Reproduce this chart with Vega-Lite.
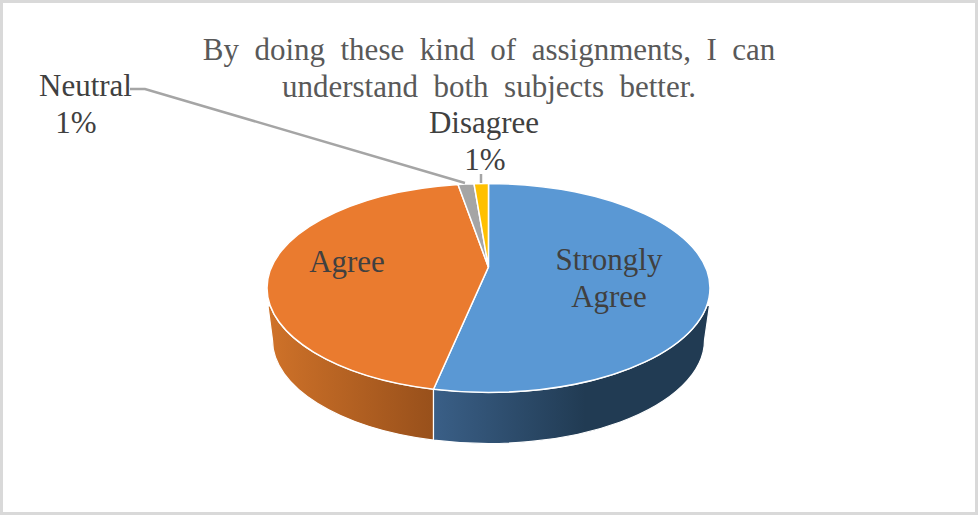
{
  "$schema": "https://vega.github.io/schema/vega-lite/v6.json",
  "width": 978,
  "height": 515,
  "padding": 0,
  "autosize": "none",
  "background": "white",
  "view": {"stroke": "#d9d9d9", "strokeWidth": 6, "fill": "white"},
  "title": {
    "text": ["By\u2002doing\u2002these\u2002kind\u2002of\u2002assignments,\u2002I\u2002can", "understand\u2002both\u2002subjects\u2002better."],
    "font": "Liberation Serif",
    "fontSize": 31,
    "fontWeight": "normal",
    "color": "#595959",
    "lineHeight": 37,
    "anchor": "middle",
    "frame": "group",
    "baseline": "top",
    "dy": 108
  },
  "data": {
    "values": [
      {"answer": "Strongly Agree", "percent": "54%"},
      {"answer": "Agree", "percent": "44%"},
      {"answer": "Neutral", "percent": "1%"},
      {"answer": "Disagree", "percent": "1%"}
    ]
  },
  "layer": [
    {
      "transform": [{"filter": {"field": "answer", "equal": "Agree"}}],
      "mark": {
        "type": "point", "size": 4, "filled": true, "opacity": 1, "stroke": "white", "strokeWidth": 1.2,
        "shape": "M -221 48.5 L -216.5 82.5 A 216 103.5 0 0 0 -55.5 182.6 L -55.5 131.7 A 221.5 104.5 0 0 1 -218.7 48.5 Z",
        "fill": {"gradient": "linear", "x1": 0, "y1": 0, "x2": 1, "y2": 0, "stops": [
          {"offset": 0, "color": "#cf7229"},
          {"offset": 1, "color": "#98501b"}
        ]}
      }
    },
    {
      "transform": [{"filter": {"field": "answer", "equal": "Strongly Agree"}}],
      "mark": {
        "type": "point", "size": 4, "filled": true, "opacity": 1, "stroke": "white", "strokeWidth": 1.2,
        "shape": "M 220.5 48 L 215.5 82.5 A 216 103.5 0 0 1 -55.5 182.6 L -55.5 131.7 A 221.5 104.5 0 0 0 -0.5 135 A 221.5 104.5 0 0 0 218 48 Z",
        "fill": {"gradient": "linear", "x1": 0, "y1": 0, "x2": 1, "y2": 0, "stops": [
          {"offset": 0, "color": "#3a5f87"},
          {"offset": 0.55, "color": "#213b53"},
          {"offset": 1, "color": "#213b53"}
        ]}
      }
    },
    {
      "mark": {"type": "point", "size": 4, "filled": true, "opacity": 1, "stroke": "white", "strokeWidth": 1.5},
      "encoding": {
        "shape": {
          "field": "answer", "type": "nominal", "legend": null,
          "scale": {
            "domain": ["Strongly Agree", "Agree", "Neutral", "Disagree"],
            "range": [
              "M -0.6 9.5 L -0.5 -74 A 221.5 104.5 0 0 1 221 30.5 A 221.5 104.5 0 0 1 -0.5 135 A 221.5 104.5 0 0 1 -55.5 131.7 Z",
              "M -0.6 9.5 L -55.5 131.7 A 221.5 104.5 0 0 1 -222 30.5 A 221.5 104.5 0 0 1 -31 -73 Z",
              "M -0.6 9.5 L -31 -73 A 221.5 104.5 0 0 1 -15 -73.8 Z",
              "M -0.6 9.5 L -15 -73.8 A 221.5 104.5 0 0 1 -0.5 -74 Z"
            ]
          }
        },
        "fill": {
          "field": "answer", "type": "nominal", "legend": null,
          "scale": {
            "domain": ["Strongly Agree", "Agree", "Neutral", "Disagree"],
            "range": ["#5a98d4", "#ea7b2f", "#a5a5a5", "#ffc000"]
          }
        }
      }
    },
    {
      "transform": [{"filter": {"field": "answer", "equal": "Neutral"}}],
      "mark": {
        "type": "point", "size": 4, "filled": false, "opacity": 1, "stroke": "#a5a5a5", "strokeWidth": 2.5,
        "shape": "M -359 -168.5 L -344 -168.5 L -24 -74.5"
      }
    },
    {
      "transform": [{"filter": {"field": "answer", "equal": "Disagree"}}],
      "mark": {
        "type": "point", "size": 4, "filled": false, "opacity": 1, "stroke": "#a5a5a5", "strokeWidth": 2.5,
        "shape": "M -8 -83.5 L -8 -74.5"
      }
    },
    {
      "transform": [{"filter": {"field": "answer", "equal": "Strongly Agree"}}],
      "mark": {"type": "text", "font": "Liberation Serif", "fontSize": 31, "color": "#404040", "align": "center", "baseline": "middle", "lineBreak": " ", "lineHeight": 37, "dx": 120, "dy": 3},
      "encoding": {"text": {"field": "answer"}}
    },
    {
      "transform": [{"filter": {"field": "answer", "equal": "Agree"}}],
      "mark": {"type": "text", "font": "Liberation Serif", "fontSize": 31, "color": "#404040", "align": "center", "baseline": "middle", "dx": -142, "dy": 5},
      "encoding": {"text": {"field": "answer"}}
    },
    {
      "transform": [{"filter": {"field": "answer", "equal": "Neutral"}}],
      "mark": {"type": "text", "font": "Liberation Serif", "fontSize": 31, "color": "#404040", "align": "center", "baseline": "middle", "dx": -403.5, "dy": -171},
      "encoding": {"text": {"field": "answer"}}
    },
    {
      "transform": [{"filter": {"field": "answer", "equal": "Neutral"}}],
      "mark": {"type": "text", "font": "Liberation Serif", "fontSize": 31, "color": "#404040", "align": "center", "baseline": "middle", "dx": -413, "dy": -134},
      "encoding": {"text": {"field": "percent"}}
    },
    {
      "transform": [{"filter": {"field": "answer", "equal": "Disagree"}}],
      "mark": {"type": "text", "font": "Liberation Serif", "fontSize": 31, "color": "#404040", "align": "center", "baseline": "middle", "dx": -5, "dy": -134},
      "encoding": {"text": {"field": "answer"}}
    },
    {
      "transform": [{"filter": {"field": "answer", "equal": "Disagree"}}],
      "mark": {"type": "text", "font": "Liberation Serif", "fontSize": 31, "color": "#404040", "align": "center", "baseline": "middle", "dx": -4, "dy": -97},
      "encoding": {"text": {"field": "percent"}}
    }
  ]
}
